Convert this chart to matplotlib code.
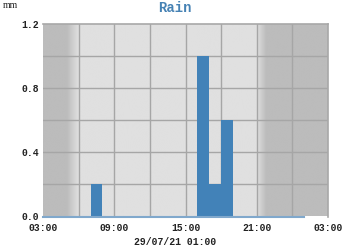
import numpy as np
import matplotlib
matplotlib.use("Agg")
import matplotlib.pyplot as plt
from matplotlib.colors import LinearSegmentedColormap

# Data: hourly rain (mm), bar start hour (hours since 00:00 of 29/07/21)
bar_start_hours = [7, 16, 17, 18]
rain_mm = [0.2, 1.0, 0.2, 0.6]
zero_line_hours = [3, 25]
zero_line_vals = [0, 0]
x_tick_hours = [3, 9, 15, 21, 27]
x_tick_labels = ["03:00", "09:00", "15:00", "21:00", "03:00"]
y_ticks = [0.0, 0.4, 0.8, 1.2]
y_tick_labels = ["0.0", "0.4", "0.8", "1.2"]
sunrise = (5.0, 6.0)
sunset = (21.0, 21.8)

mono = "Liberation Mono"
fig = plt.figure(figsize=(3.5, 2.5), dpi=100)
ax = fig.add_axes([43/350, 1-216.5/250, 285/350, 193/250])
ax.set_xlim(3, 27)
ax.set_ylim(0, 1.2)

# day/night background gradient
xs = np.linspace(3, 27, 1000)
val = np.zeros_like(xs)
val = np.where(xs < sunrise[0], 0, val)
val = np.where((xs >= sunrise[0]) & (xs < sunrise[1]), (xs - sunrise[0]) / (sunrise[1] - sunrise[0]), val)
val = np.where((xs >= sunrise[1]) & (xs < sunset[0]), 1, val)
val = np.where((xs >= sunset[0]) & (xs < sunset[1]), 1 - (xs - sunset[0]) / (sunset[1] - sunset[0]), val)
cmap = LinearSegmentedColormap.from_list("dn", ["#bcbcbc", "#e0e0e0"])
ax.imshow(val[np.newaxis, :], extent=[3, 27, 0, 1.2], aspect="auto", cmap=cmap,
          vmin=0, vmax=1, zorder=0, interpolation="bilinear")

# grid lines every 3 h and every 0.2 mm
for gx in np.arange(6, 27, 3):
    ax.axvline(gx, color="#a6a6a6", linewidth=1.0, zorder=1)
for gy in np.arange(0.2, 1.19, 0.2):
    ax.axhline(gy, color="#a6a6a6", linewidth=1.0, zorder=1)

ax.bar(bar_start_hours, rain_mm, width=1.0, align="edge", color="#4282b8", zorder=2)
ax.plot(zero_line_hours, zero_line_vals, color="#80a8cc", linewidth=1.5, zorder=3, clip_on=False)

ax.set_xticks(x_tick_hours)
ax.set_xticklabels(x_tick_labels, fontfamily=mono, fontsize=7, fontweight="bold", color="#222222")
ax.set_yticks(y_ticks)
ax.set_yticklabels(y_tick_labels, fontfamily=mono, fontsize=7, fontweight="bold", color="#222222")
ax.tick_params(axis="x", length=0, pad=5)
ax.tick_params(axis="y", length=0, pad=3)

for s in ["left", "bottom"]:
    ax.spines[s].set_visible(False)
for s in ["top", "right"]:
    ax.spines[s].set_color("#a8a8a8")
    ax.spines[s].set_linewidth(1.2)

fig.text(0.5, 1 - 8/250, "Rain", ha="center", va="center", fontfamily=mono,
         fontsize=10, fontweight="bold", color="#4682b4")
fig.text(3/350, 1 - 5/250, "mm", ha="left", va="center", fontfamily="Liberation Serif",
         fontsize=7, color="#222222")
fig.text(0.5, 1 - 242/250, "29/07/21 01:00", ha="center", va="center", fontfamily=mono,
         fontsize=7, fontweight="bold", color="#222222")

fig.savefig("out.png", dpi=100)
